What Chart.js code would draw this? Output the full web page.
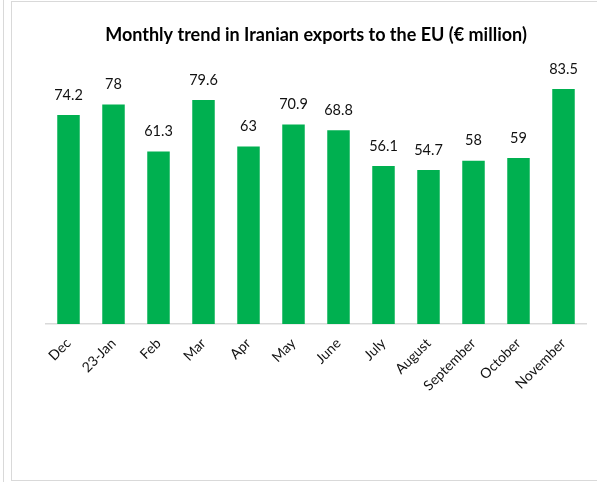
<!DOCTYPE html>
<html>
<head>
<meta charset="utf-8">
<script src="https://cdn.jsdelivr.net/npm/chart.js@4/dist/chart.umd.min.js"></script>
<style>
body { margin: 0; background: #fff; }
#wrap { position: relative; width: 597px; height: 482px; overflow: hidden; }
#outer { position: absolute; left: 3px; top: 0; width: 1px; height: 482px; background: #d9d9d9; }
#frame { position: absolute; left: 11px; top: 1px; width: 620px; height: 478px; border: 1px solid #d9d9d9; }
canvas { position: absolute; left: 0; top: 0; }
</style>
</head>
<body>
<div id="wrap">
  <div id="outer"></div>
  <div id="frame"></div>
  <canvas id="myChart" width="597" height="482"></canvas>
</div>
<script>
var months = ["Dec", "23-Jan", "Feb", "Mar", "Apr", "May", "June", "July", "August", "September", "October", "November"];
var exports_eu = [74.2, 78, 61.3, 79.6, 63, 70.9, 68.8, 56.1, 54.7, 58, 59, 83.5];
var title_text = "Monthly trend in Iranian exports to the EU (\u20ac million)";

// labels above the bars
var barLabels = {
	id: 'barLabels',
	afterDatasetsDraw: function(chart) {
		var ctx = chart.ctx;
		var meta = chart.getDatasetMeta(0);
		ctx.save();
		ctx.font = '14.5px Lato';
		ctx.fillStyle = '#111';
		ctx.textAlign = 'center';
		ctx.textBaseline = 'middle';
		for (var i = 0; i < meta.data.length; i++) {
			var bar = meta.data[i];
			ctx.fillText(String(exports_eu[i]), bar.x, bar.y - 20);
		}
		ctx.restore();
	}
};

var ctx = document.getElementById('myChart');
new Chart(ctx, {
	type: 'bar',
	data: {
		labels: months,
		datasets: [{
			data: exports_eu,
			backgroundColor: '#00b050',
			categoryPercentage: 1.0,
			barPercentage: 0.5
		}]
	},
	options: {
		responsive: false,
		animation: false,
		layout: { padding: { left: 46, right: 11, top: 0, bottom: 0 } },
		plugins: {
			legend: { display: false },
			tooltip: { enabled: false },
			title: {
				display: true,
				text: title_text,
				color: '#000',
				font: { family: 'Lato', size: 18, weight: 'bold', lineHeight: 1.2 },
				padding: { top: 24, bottom: 25 }
			}
		},
		scales: {
			y: { display: false, min: 0, max: 90 },
			x: {
				grid: { display: false },
				border: { display: true, color: '#d9d9d9', width: 1.5 },
				ticks: {
					color: '#111',
					font: { family: 'Lato', size: 14 },
					minRotation: 45,
					maxRotation: 45,
					autoSkip: false,
					padding: 3
				},
				afterFit: function(scale) { scale.height = 158; }
			}
		}
	},
	plugins: [barLabels]
});
</script>
</body>
</html>
